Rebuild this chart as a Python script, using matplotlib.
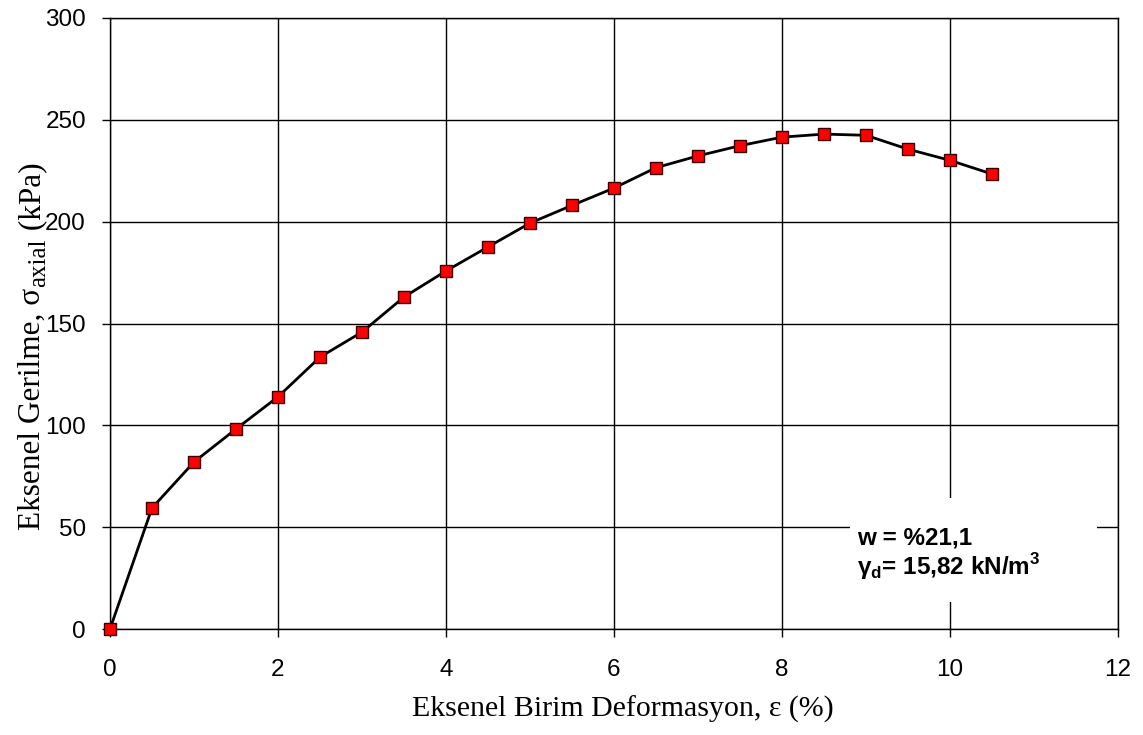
import matplotlib
matplotlib.use("Agg")
import matplotlib.pyplot as plt
from matplotlib.patches import Rectangle

strain = [0, 0.5, 1, 1.5, 2, 2.5, 3, 3.5, 4, 4.5, 5, 5.5, 6, 6.5, 7, 7.5, 8, 8.5, 9, 9.5, 10, 10.5]
stress = [0, 59.4, 82, 98.2, 114, 133.5, 145.8, 163, 175.8, 187.6, 199.3, 208, 216.5, 226.5,
          232.3, 237.3, 241.5, 243, 242.4, 235.6, 230.1, 223.4]
xticks = [0, 2, 4, 6, 8, 10, 12]
yticks = [0, 50, 100, 150, 200, 250, 300]

W, H = 1143, 735
fig = plt.figure(figsize=(W / 100, H / 100), dpi=100)
ax = fig.add_axes([110 / W, 1 - 629 / H, 1008 / W, 611 / H])

ax.plot(strain, stress, color='black', lw=2, marker='s', markersize=9,
        markerfacecolor='#ff0000', markeredgecolor='#3a0000', markeredgewidth=1,
        zorder=3, clip_on=False)

ax.set_xlim(0, 12)
ax.set_ylim(0, 300)
ax.set_xticks(xticks)
ax.set_yticks(yticks)
ax.grid(True, color='black', lw=1)
ax.set_axisbelow(True)
for s in ax.spines.values():
    s.set_color('black')
    s.set_linewidth(1)
ax.tick_params(direction='out', length=5.8, width=1, labelsize=17.5)
ax.tick_params(axis='y', pad=11.5)
ax.tick_params(axis='x', pad=16)
for lab in ax.get_xticklabels() + ax.get_yticklabels():
    lab.set_family('Liberation Sans')

# x label
fig.text(623 / W, 1 - 717 / H, 'Eksenel Birim Deformasyon, ε (%)', family='Liberation Serif',
         fontsize=21.5, ha='center', va='baseline')

# y label built from pieces (larger subscript)
xb, yb = 40 / W, 1 - 530 / H
kw = dict(family='Liberation Serif', rotation=90, rotation_mode='anchor', ha='left', va='baseline')
t1 = fig.text(xb, yb, 'Eksenel Gerilme, σ', fontsize=22.5, **kw)
fig.canvas.draw()
r = fig.canvas.get_renderer()
h1 = t1.get_window_extent(r).height
t2 = fig.text(xb + 5 / W, yb + (h1 + 1) / H, 'axial', fontsize=18, **kw)
fig.canvas.draw()
h2 = t2.get_window_extent(r).height
fig.text(xb, yb + (h1 + h2 + 1) / H, ' (kPa)', fontsize=22.5, **kw)

# annotation box
ax.add_patch(Rectangle((740 / 1008, 27 / 611), 247 / 1008, 104 / 611, transform=ax.transAxes,
                       facecolor='white', edgecolor='none', zorder=2))
ax.text(747 / 1008, 85 / 611, 'w = %21,1', transform=ax.transAxes, family='Liberation Sans',
        fontsize=17.5, fontweight='bold', ha='left', va='baseline', zorder=4)
ax.text(747 / 1008, 54 / 611, r'γ$_{\mathregular{d}}$= 15,82 kN/m$^{\mathregular{3}}$',
        transform=ax.transAxes, family='Liberation Sans',
        fontsize=17.5, fontweight='bold', ha='left', va='baseline', zorder=4)

fig.savefig('out.png', dpi=100)
